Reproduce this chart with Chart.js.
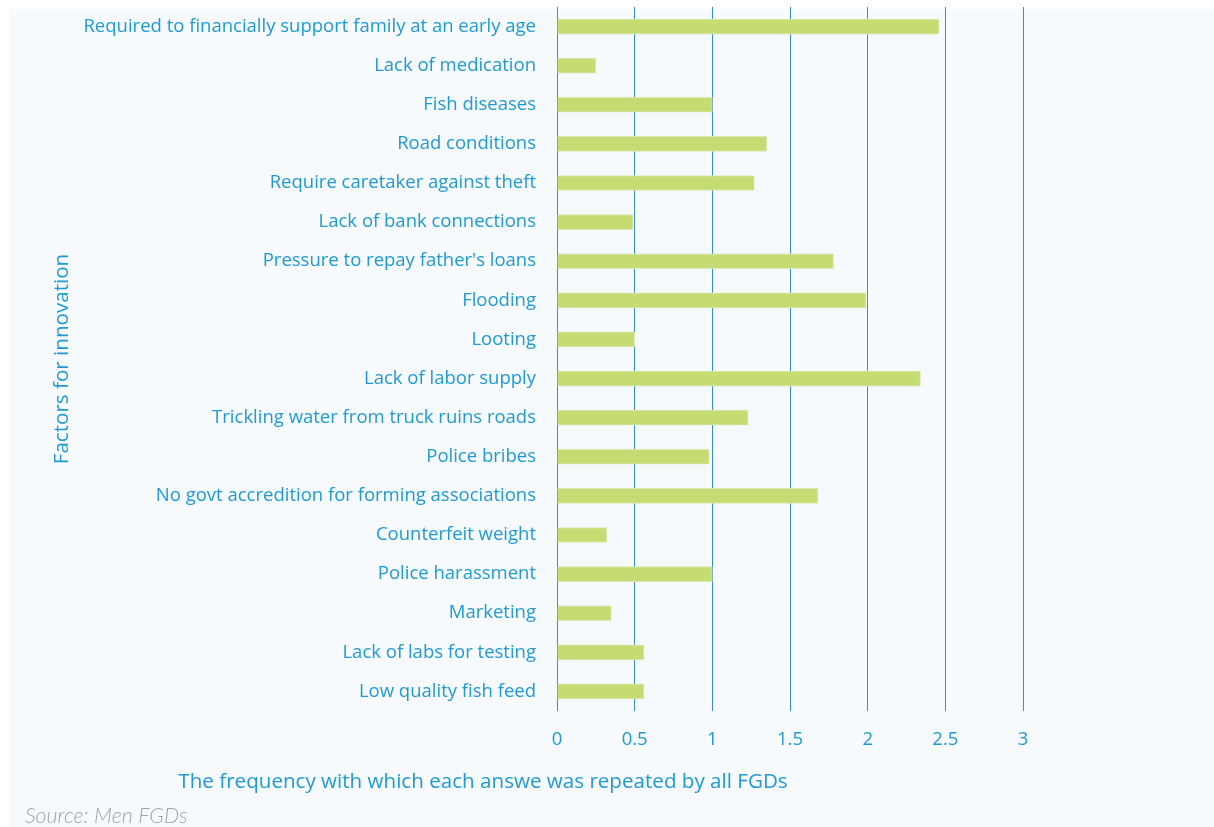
<!DOCTYPE html>
<html>
<head>
<meta charset="utf-8">
<script src="https://cdn.jsdelivr.net/npm/chart.js@4"></script>
<style>
  body { margin: 0; background: #ffffff; }
  #wrap { position: relative; width: 1214px; height: 827px; overflow: hidden; }
  #panel { position: absolute; left: 9px; top: 9px; right: 0; bottom: 0; background: #f6fafc; }
  #chart { position: absolute; left: 0; top: 0; }
  #source { position: absolute; left: 25px; top: 802px; font-family: Lato, sans-serif; font-style: italic; font-weight: 300; font-size: 21.4px; color: #a3a3a3; }
</style>
</head>
<body>
<div id="wrap">
  <div id="panel"></div>
  <canvas id="chart" width="1214" height="827"></canvas>
  <div id="source">Source: Men FGDs</div>
</div>
<script>
  // categories, top to bottom
  const factors = [
    "Required to financially support family at an early age",
    "Lack of medication",
    "Fish diseases",
    "Road conditions",
    "Require caretaker against theft",
    "Lack of bank connections",
    "Pressure to repay father's loans",
    "Flooding",
    "Looting",
    "Lack of labor supply",
    "Trickling water from truck ruins roads",
    "Police bribes",
    "No govt accredition for forming associations",
    "Counterfeit weight",
    "Police harassment",
    "Marketing",
    "Lack of labs for testing",
    "Low quality fish feed"
  ];

  // frequency values
  const frequency = [2.46, 0.25, 1.0, 1.35, 1.27, 0.49, 1.78, 1.99, 0.5, 2.34, 1.23, 0.98, 1.68, 0.32, 1.0, 0.35, 0.56, 0.56];

  const xTicks = [0, 0.5, 1, 1.5, 2, 2.5, 3];

  const blue = "#1f9ad4";
  const fontFamily = "'Open Sans', sans-serif";

  // x axis title is centred on the whole figure, not on the plot area
  const xTitlePlugin = {
    id: "xTitle",
    afterDraw(chart) {
      const ctx = chart.ctx;
      ctx.save();
      ctx.font = "20.6px " + fontFamily;
      ctx.fillStyle = blue;
      ctx.textAlign = "center";
      ctx.textBaseline = "middle";
      ctx.fillText("The frequency with which each answe was repeated by all FGDs", 483, 782);
      ctx.restore();
    }
  };

  new Chart(document.getElementById("chart"), {
    type: "bar",
    data: {
      labels: factors,
      datasets: [{
        data: frequency,
        backgroundColor: "#c4dc72",
        borderColor: "#dde9b4",
        borderWidth: 1,
        barThickness: 15
      }]
    },
    options: {
      indexAxis: "y",
      responsive: false,
      animation: false,
      layout: { padding: { left: 46, top: 7, right: 191, bottom: 0 } },
      plugins: { legend: { display: false }, tooltip: { enabled: false } },
      scales: {
        x: {
          min: 0,
          max: 3,
          afterBuildTicks(scale) { scale.ticks = xTicks.map(v => ({ value: v })); },
          afterFit(scale) {
            scale.height = 116;
            scale.paddingLeft = 0;
            scale.paddingRight = 0;
          },
          grid: { color: "#3a8dd3", lineWidth: 1, drawTicks: false },
          border: { display: false },
          ticks: {
            color: blue,
            font: { family: fontFamily, size: 18.5 },
            padding: 18,
            callback: v => String(v)
          }
        },
        y: {
          afterFit(scale) {
            scale.width = 557 - 46;
            scale.paddingTop = 0;
            scale.paddingBottom = 0;
          },
          grid: { display: false, drawTicks: false },
          border: { display: false },
          ticks: { color: blue, font: { family: fontFamily, size: 18.5 }, padding: 21 },
          title: { display: true, text: "Factors for innovation", color: blue, font: { family: fontFamily, size: 20.6 } }
        }
      }
    },
    plugins: [xTitlePlugin]
  });
</script>
</body>
</html>
